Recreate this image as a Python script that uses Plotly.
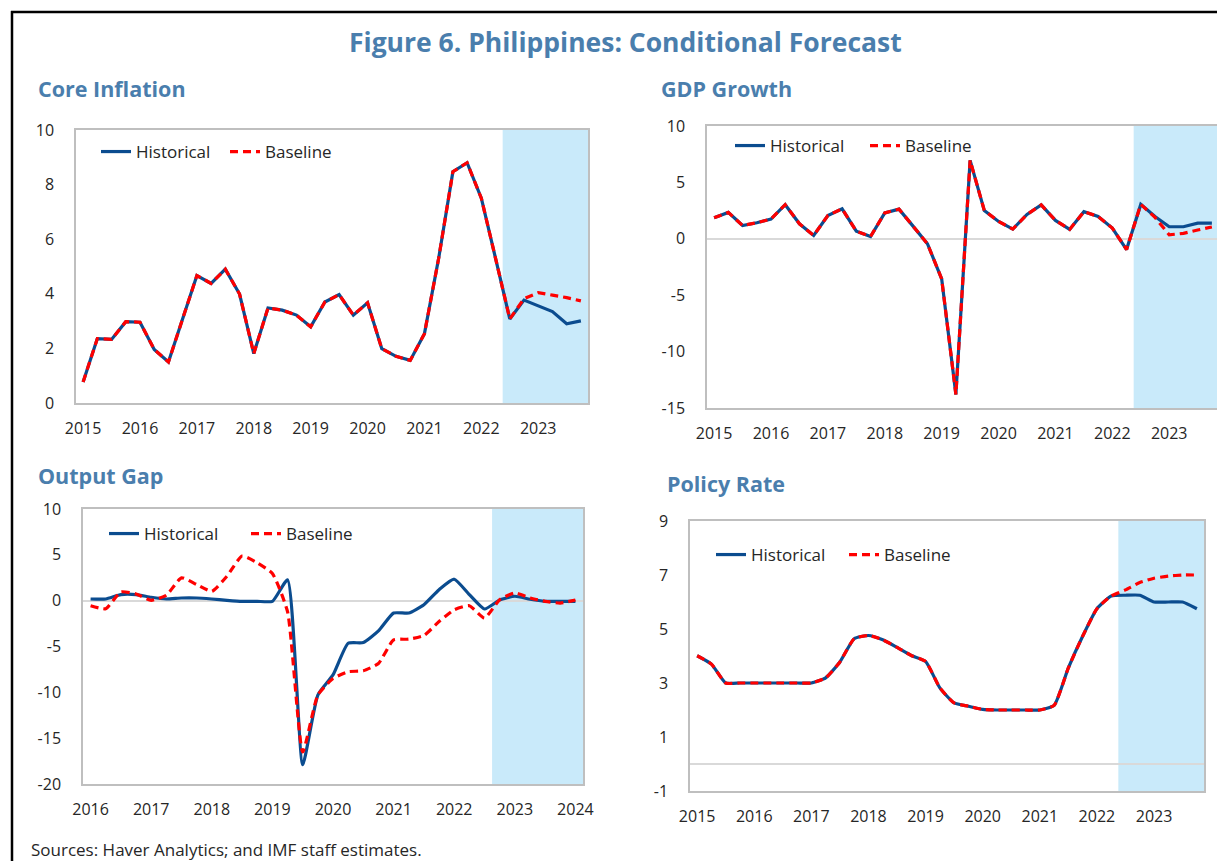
import plotly.graph_objects as go

# The page body keeps its default 8 px margin, so the figure is sized to the
# remaining viewport and every reference pixel position is shifted by OFF.
OFF = 8
W, H = 1225 - OFF, 861 - OFF

# ---------------- data ----------------
quarters = [f"{y}Q{q}" for y in range(2015, 2024) for q in range(1, 5)]          # 2015Q1..2023Q4
quarters_gap = [f"{y}Q{q}" for y in range(2016, 2024) for q in range(1, 5)] + ["2024Q1"]

year_ticks = [f"{y}Q1" for y in range(2015, 2024)]
year_labels = [str(y) for y in range(2015, 2024)]
year_ticks_gap = [f"{y}Q1" for y in range(2016, 2025)]
year_labels_gap = [str(y) for y in range(2016, 2025)]

core_yticks = [0, 2, 4, 6, 8, 10]
gdp_yticks = [-15, -10, -5, 0, 5, 10]
gap_yticks = [-20, -15, -10, -5, 0, 5, 10]
rate_yticks = [-1, 1, 3, 5, 7, 9]

forecast_start = "2022Q3"
forecast_start_gap = "2022Q4"

core_hist = [0.77, 2.36, 2.33, 2.98, 2.96, 1.96, 1.50, 3.09, 4.67, 4.38, 4.90, 3.99,
             1.81, 3.48, 3.40, 3.22, 2.79, 3.70, 3.97, 3.22, 3.67, 1.99, 1.71, 1.56,
             2.54, 5.30, 8.47, 8.80, 7.50, 5.30, 3.08, 3.77, 3.55, 3.35, 2.90, 3.01]
core_base = [0.77, 2.36, 2.33, 2.98, 2.96, 1.96, 1.50, 3.09, 4.67, 4.38, 4.90, 3.99,
             1.81, 3.48, 3.40, 3.22, 2.79, 3.70, 3.97, 3.22, 3.67, 1.99, 1.71, 1.56,
             2.54, 5.30, 8.47, 8.80, 7.50, 5.30, 3.08, 3.82, 4.04, 3.95, 3.86, 3.74]

gdp_hist = [1.86, 2.34, 1.18, 1.42, 1.75, 3.02, 1.33, 0.30, 2.07, 2.66, 0.68, 0.20,
            2.30, 2.63, 1.10, -0.44, -3.55, -13.8, 6.95, 2.50, 1.54, 0.86, 2.16, 3.00,
            1.63, 0.83, 2.40, 1.98, 0.95, -0.95, 3.05, 1.98, 1.07, 1.07, 1.39, 1.39]
gdp_base = [1.86, 2.34, 1.18, 1.42, 1.75, 3.02, 1.33, 0.30, 2.07, 2.66, 0.68, 0.20,
            2.30, 2.63, 1.10, -0.44, -3.55, -13.8, 6.95, 2.50, 1.54, 0.86, 2.16, 3.00,
            1.63, 0.83, 2.40, 1.98, 0.95, -0.95, 3.05, 1.90, 0.35, 0.48, 0.78, 1.05]

gap_hist = [0.18, 0.18, 0.66, 0.66, 0.37, 0.18, 0.29, 0.29, 0.18, 0.04, -0.07, -0.07,
            -0.07, 2.27, -17.9, -10.3, -8.1, -4.65, -4.57, -3.30, -1.35, -1.35, -0.44, 1.20,
            2.34, 0.66, -0.91, 0.07, 0.48, 0.15, -0.07, -0.07, -0.07]
gap_base = [-0.55, -0.88, 0.95, 0.73, 0.04, 0.59, 2.49, 1.76, 1.02, 2.67, 4.87, 4.13,
            2.96, -1.20, -16.5, -10.3, -8.5, -7.75, -7.65, -6.85, -4.28, -4.20, -3.80, -2.27,
            -0.99, -0.55, -1.90, 0.10, 0.84, 0.29, -0.07, -0.26, 0.07]

rate_hist = [4.01, 3.70, 3.00, 3.00, 3.00, 3.00, 3.00, 3.00, 3.00, 3.19, 3.78, 4.64,
             4.76, 4.60, 4.32, 4.02, 3.80, 2.82, 2.26, 2.14, 2.02, 2.00, 2.00, 2.00,
             2.00, 2.17, 3.56, 4.73, 5.75, 6.22, 6.25, 6.25, 6.00, 6.00, 6.00, 5.75]
rate_base = [4.01, 3.70, 3.00, 3.00, 3.00, 3.00, 3.00, 3.00, 3.00, 3.19, 3.78, 4.64,
             4.76, 4.60, 4.32, 4.02, 3.80, 2.82, 2.26, 2.14, 2.02, 2.00, 2.00, 2.00,
             2.00, 2.17, 3.56, 4.73, 5.75, 6.22, 6.45, 6.72, 6.88, 6.96, 7.00, 7.00]

# ---------------- style ----------------
FONT = "Open Sans"
TXT = "#262626"
TITLE_BLUE = "#4A7EAD"
HIST_BLUE = "#0B4C8F"
BASE_RED = "#FF0000"
SHADE = "#C9EAFA"
BORDER = "#BFBFBF"


def px_x(p):
    return (p - OFF) / W


def px_y(p):
    return 1 - (p - OFF) / H


panels = [
    dict(n="", x=quarters, hist=core_hist, base=core_base, ticks=year_ticks, labels=year_labels,
         fstart=forecast_start, yticks=core_yticks,
         dom_x=(76, 588), dom_y=(130, 403), smooth=False, zero=False,
         leg=(101, 152), entry=84),
    dict(n="2", x=quarters, hist=gdp_hist, base=gdp_base, ticks=year_ticks, labels=year_labels,
         fstart=forecast_start, yticks=gdp_yticks,
         dom_x=(707, 1219), dom_y=(126, 408), smooth=False, zero=True,
         leg=(735, 146), entry=90),
    dict(n="3", x=quarters_gap, hist=gap_hist, base=gap_base, ticks=year_ticks_gap, labels=year_labels_gap,
         fstart=forecast_start_gap, yticks=gap_yticks,
         dom_x=(83, 583), dom_y=(509, 784), smooth=True, zero=True,
         leg=(109, 534), entry=97),
    dict(n="4", x=quarters, hist=rate_hist, base=rate_base, ticks=year_ticks, labels=year_labels,
         fstart=forecast_start, yticks=rate_yticks,
         dom_x=(690, 1204), dom_y=(521, 791), smooth=True, zero=True,
         leg=(716, 555), entry=88),
]

fig = go.Figure()
layout = dict(
    width=W, height=H,
    margin=dict(l=0, r=0, t=0, b=0, pad=0, autoexpand=False),
    paper_bgcolor="white", plot_bgcolor="white",
    font=dict(family=FONT, color=TXT, size=16),
    showlegend=True,
    shapes=[], annotations=[],
)

for p in panels:
    n = p["n"]
    xa, ya = "x" + n, "y" + n
    legname = "legend" + n
    line_shape = "spline" if p["smooth"] else "linear"
    fig.add_trace(go.Scatter(
        x=p["x"], y=p["hist"], mode="lines", name="Historical",
        line=dict(color=HIST_BLUE, width=3.2, shape=line_shape, smoothing=0.5),
        xaxis=xa, yaxis=ya, legend=legname, hoverinfo="skip"))
    fig.add_trace(go.Scatter(
        x=p["x"], y=p["base"], mode="lines", name="Baseline",
        line=dict(color=BASE_RED, width=3.2, dash="8px,5px", shape=line_shape, smoothing=0.5),
        xaxis=xa, yaxis=ya, legend=legname, hoverinfo="skip"))

    idx0 = p["x"].index(p["fstart"])
    layout["shapes"].append(dict(
        type="rect", xref=xa, yref=ya + " domain",
        x0=idx0 - 0.5, x1=len(p["x"]) - 0.5, y0=0, y1=1,
        fillcolor=SHADE, line=dict(width=0), layer="below"))

    layout["xaxis" + n] = dict(
        domain=[px_x(p["dom_x"][0]), min(1.0, px_x(p["dom_x"][1]))],
        anchor=ya, type="category", categoryorder="array", categoryarray=p["x"],
        range=[-0.5, len(p["x"]) - 0.5],
        tickmode="array", tickvals=p["ticks"], ticktext=p["labels"],
        showgrid=False, zeroline=False, ticks="", automargin=False,
        showline=True, mirror=True, linecolor=BORDER, linewidth=1.5,
        tickfont=dict(size=16, color=TXT), ticklabelstandoff=10,
    )
    yt = p["yticks"]
    layout["yaxis" + n] = dict(
        domain=[px_y(p["dom_y"][1]), px_y(p["dom_y"][0])],
        anchor=xa, range=[yt[0], yt[-1]],
        tickmode="array", tickvals=yt, ticktext=[str(v) for v in yt],
        showgrid=False, zeroline=p["zero"], zerolinecolor="#D9D9D9", zerolinewidth=1.5,
        ticks="", showline=True, mirror=True, linecolor=BORDER, linewidth=1.5, automargin=False,
        tickfont=dict(size=16, color=TXT), ticklabelstandoff=17,
    )
    layout[legname] = dict(
        x=px_x(p["leg"][0] - 5), y=px_y(p["leg"][1]), xanchor="left", yanchor="middle",
        orientation="h", bgcolor="rgba(0,0,0,0)", borderwidth=0,
        font=dict(size=17, color=TXT, family=FONT),
        entrywidth=p["entry"], entrywidthmode="pixels", tracegroupgap=0,
    )

# titles
layout["annotations"] += [
    dict(text="<b>Figure 6. Philippines: Conditional Forecast</b>", x=px_x(625), y=px_y(42),
         xref="paper", yref="paper", xanchor="center", yanchor="middle", showarrow=False,
         font=dict(size=26.5, color=TITLE_BLUE, family=FONT)),
    dict(text="<b>Core Inflation</b>", x=px_x(36), y=px_y(88), xref="paper", yref="paper",
         xanchor="left", yanchor="middle", showarrow=False,
         font=dict(size=21.5, color=TITLE_BLUE, family=FONT)),
    dict(text="<b>GDP Growth</b>", x=px_x(659), y=px_y(88), xref="paper", yref="paper",
         xanchor="left", yanchor="middle", showarrow=False,
         font=dict(size=21.5, color=TITLE_BLUE, family=FONT)),
    dict(text="<b>Output Gap</b>", x=px_x(36), y=px_y(476), xref="paper", yref="paper",
         xanchor="left", yanchor="middle", showarrow=False,
         font=dict(size=21.5, color=TITLE_BLUE, family=FONT)),
    dict(text="<b>Policy Rate</b>", x=px_x(665), y=px_y(484), xref="paper", yref="paper",
         xanchor="left", yanchor="middle", showarrow=False,
         font=dict(size=21.5, color=TITLE_BLUE, family=FONT)),
    dict(text="Sources: Haver Analytics; and IMF staff estimates.", x=px_x(29), y=px_y(849),
         xref="paper", yref="paper", xanchor="left", yanchor="middle", showarrow=False,
         font=dict(size=17, color=TXT, family=FONT)),
]

# frame (top and left edges of the figure box)
layout["shapes"] += [
    dict(type="line", xref="paper", yref="paper", x0=px_x(11), x1=1.02, y0=px_y(12), y1=px_y(12),
         line=dict(color="black", width=2.5), layer="above"),
    dict(type="line", xref="paper", yref="paper", x0=px_x(12), x1=px_x(12), y0=px_y(11), y1=-0.02,
         line=dict(color="black", width=2.5), layer="above"),
]

fig.update_layout(**layout)
fig.write_html("out.html")
